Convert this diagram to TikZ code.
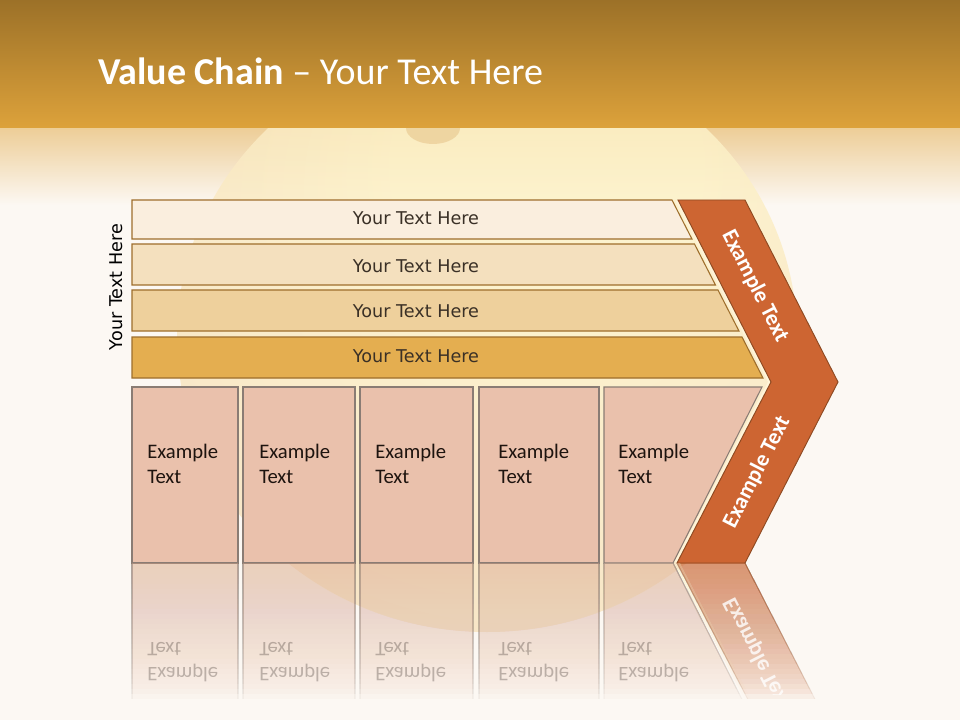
\documentclass[tikz,border=0pt]{standalone}
\usepackage{fontspec}
\setmainfont{Carlito}
\newfontfamily\vcbarfont{DejaVu Sans}
\definecolor{bg}{HTML}{FCF8F3}
\definecolor{hdtop}{HTML}{9C7128}
\definecolor{hdbot}{HTML}{DDA23B}
\definecolor{fadetop}{HTML}{EDCD96}
\definecolor{sphin}{HTML}{FDF2C8}
\definecolor{sphmid}{HTML}{F6E0BE}
\definecolor{sphout}{HTML}{EFCAA0}
\definecolor{knob}{HTML}{D4A058}
\definecolor{barline}{HTML}{9E6E2C}
\definecolor{barA}{HTML}{FAEEDE}
\definecolor{barB}{HTML}{F4E0BE}
\definecolor{barC}{HTML}{EED09C}
\definecolor{barD}{HTML}{E4AE50}
\definecolor{bartxt}{HTML}{3A3026}
\definecolor{boxfill}{HTML}{EAC1AC}
\definecolor{boxline}{HTML}{8A7C74}
\definecolor{boxtxt}{HTML}{1E140F}
\definecolor{chevfill}{HTML}{CD6532}
\definecolor{chevline}{HTML}{8E4A22}
\definecolor{cream}{HTML}{FFF4D8}
\pgfdeclareradialshading{vcsphere}{\pgfpoint{6bp}{18bp}}{color(0bp)=(sphin); color(12bp)=(sphin); color(40bp)=(sphmid); color(64bp)=(sphout)}
\newcommand\vcbar[3]{%
  \filldraw[bar, fill=#3] (132,#1) -- ({672+0.511*(#1-200)},#1) -- ({672+0.511*(#2-200)},#2) -- (132,#2) -- cycle;}
\newcommand\vcshapes{%
  \filldraw[box] (132,387) rectangle (238,563);
  \filldraw[box] (243,387) rectangle (355,563);
  \filldraw[box] (360,387) rectangle (473,563);
  \filldraw[box] (479,387) rectangle (599,563);
  \filldraw[box] (604,387) -- (762,387) -- (673,563) -- (604,563) -- cycle;
  \draw[cream, line width=4pt] (678,200) -- (771,382) -- (677,563);
  \filldraw[chev] (678,200) -- (745,200) -- (838,382) -- (745,563) -- (677,563) -- (771,382) -- cycle;
}
\newcommand\vcboxtexts{%
  \node[boxtext] (bt1) at (147,444) {Example\\Text};
  \node[boxtext] (bt2) at (259,444) {Example\\Text};
  \node[boxtext] (bt3) at (375,444) {Example\\Text};
  \node[boxtext] (bt4) at (498,444) {Example\\Text};
  \node[boxtext] (bt5) at (618,444) {Example\\Text};
}
\newcommand\vcchevlow{%
  \node[chevtext, rotate=62.9] (ct2) at (757,472) {Example Text};
}
\begin{document}
\begin{tikzpicture}[x={(0.75pt,0)}, y={(0,-0.75pt)},
  bar/.style={draw=barline, line width=0.8pt},
  box/.style={draw=boxline, fill=boxfill, line width=0.8pt},
  chev/.style={draw=chevline, fill=chevfill, line width=0.7pt},
  bartext/.style={font=\vcbarfont\fontsize{13.2}{16}\selectfont, text=bartxt, inner sep=0pt},
  boxtext/.style={font=\fontsize{15.5}{18.75}\selectfont, text=boxtxt, align=left, anchor=north west, inner sep=0pt},
  chevtext/.style={font=\bfseries\fontsize{16.8}{20}\selectfont, text=white, inner sep=0pt},
  mirror/.style={shift={(0,1126)}, yscale=-1, transform shape}]
\useasboundingbox (0,0) rectangle (960,720);
\fill[bg] (0,0) rectangle (960,720);
% fade under header
\shade[top color=fadetop, bottom color=bg] (0,127) rectangle (960,205);
% sphere
\shade[shading=vcsphere, opacity=0.85] (487,337) ellipse [x radius=310, y radius=295];
\fill[knob, opacity=0.3] (433,128) ellipse [x radius=27, y radius=16];
% header
\shade[top color=hdtop, bottom color=hdbot] (0,0) rectangle (960,128);
\node[anchor=base west, text=white, font=\fontsize{28.5}{34}\selectfont, inner sep=0pt] (title) at (98,85) {\textbf{Value Chain} – Your Text Here};
% bars
\vcbar{200}{239}{barA}
\vcbar{244}{285}{barB}
\vcbar{290}{331}{barC}
\vcbar{337}{378}{barD}
\node[bartext] (b1) at (416,218) {Your Text Here};
\node[bartext] (b2) at (416,266) {Your Text Here};
\node[bartext] (b3) at (416,311) {Your Text Here};
\node[bartext] (b4) at (416,356) {Your Text Here};
\node[bartext, text=black, rotate=90] (side) at (116,287) {Your Text Here};
% boxes and chevron
\vcshapes
\vcboxtexts
\vcchevlow
\node[chevtext, rotate=-62.9] (ct1) at (755,286) {Example Text};
% reflection of the shapes: nested clips from the mirror line down, so the opacity adds up smoothly
\foreach \i in {0,...,26}{
  \pgfmathsetmacro\yb{563+5*(\i+1)}
  \pgfmathsetmacro\oa{0.62*(max(0.0001,1-(\i+0.5)/27))^0.55}
  \pgfmathsetmacro\ob{0.62*(max(0.0001,1-(\i+1.5)/27))^0.55}
  \pgfmathsetmacro\op{1-(1-\oa)/(1-\ob)}
  \begin{scope}
    \clip (0,563) rectangle (960,\yb);
    \begin{scope}[opacity=\op, mirror]
      \vcshapes
    \end{scope}
  \end{scope}
}
% reflected texts, drawn once
\begin{scope}
  \clip (0,563) rectangle (960,694);
  \begin{scope}[mirror, opacity=0.27]
    \vcboxtexts
  \end{scope}
  \begin{scope}[mirror, opacity=0.8]
    \vcchevlow
  \end{scope}
\end{scope}
\end{tikzpicture}
\end{document}
